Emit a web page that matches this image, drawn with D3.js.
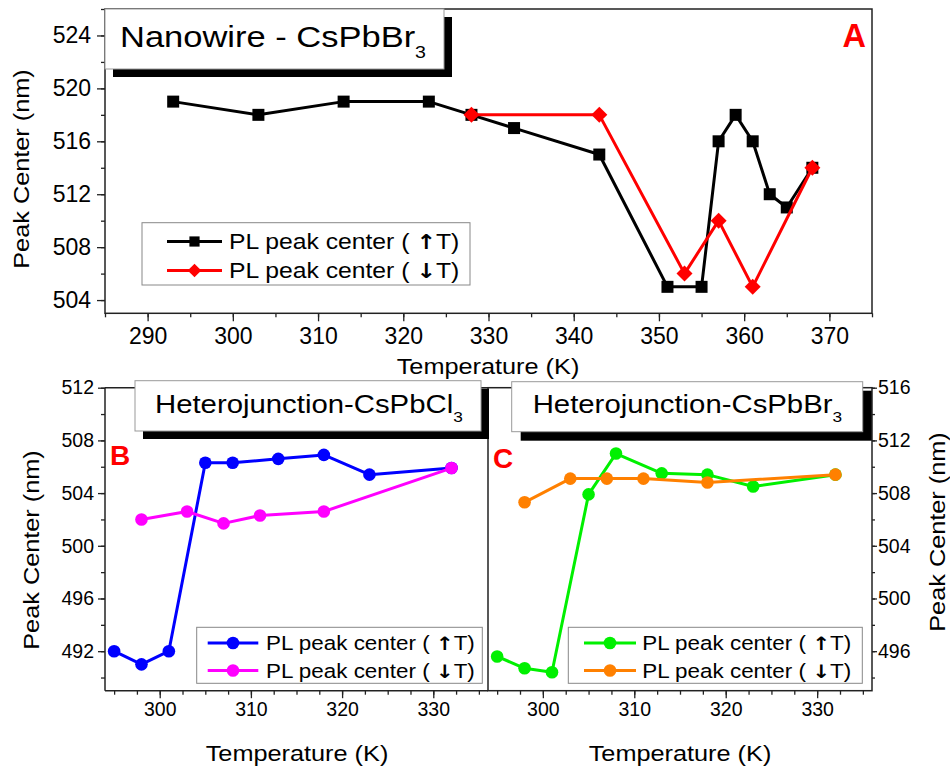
<!DOCTYPE html>
<html lang="en">
<head>
<meta charset="UTF-8">
<title>Peak Center vs Temperature</title>
<style>
  body { margin: 0; background: #fff; }
  svg { font-family: "Liberation Sans", Arial, sans-serif; }
</style>
</head>
<body>
<svg id="chart" width="950" height="770"></svg>
<script src="https://d3js.org/d3.v7.min.js"></script>
<script>
// Panel A : nanowire CsPbBr3
var tempUpA   = [293, 303, 313, 323, 328, 333, 343, 351, 355, 357, 359, 361, 363, 365, 368];
var peakUpA   = [519, 518, 519, 519, 518, 517, 515, 505, 505, 516, 518, 516, 512, 511, 514];
var tempDownA = [328, 343, 353, 357, 361, 368];
var peakDownA = [518, 518, 506, 510, 505, 514];

// Panel B : heterojunction CsPbCl3
var tempUpB   = [295, 298, 301, 305, 308, 313, 318, 323, 332];
var peakUpB   = [492, 491, 492, 506.3, 506.3, 506.6, 506.9, 505.4, 505.9];
var tempDownB = [298, 303, 307, 311, 318, 332];
var peakDownB = [502, 502.6, 501.7, 502.3, 502.6, 505.9];

// Panel C : heterojunction CsPbBr3
var tempUpC   = [295, 298, 301, 305, 308, 313, 318, 323, 332];
var peakUpC   = [495.6, 494.7, 494.4, 507.9, 511, 509.5, 509.4, 508.5, 509.4];
var tempDownC = [298, 303, 307, 311, 318, 332];
var peakDownC = [507.3, 509.1, 509.1, 509.1, 508.8, 509.4];

// tick labels
var xTicksA = [290, 300, 310, 320, 330, 340, 350, 360, 370];
var yTicksA = [504, 508, 512, 516, 520, 524];
var xTicksBC = [300, 310, 320, 330];
var yTicksB = [492, 496, 500, 504, 508, 512];
var yTicksC = [496, 500, 504, 508, 512, 516];

var svg = d3.select("#chart");
var AX = "#222";
var SX = 1.15; // the original lettering is a bit wider than Arial

function zip(xs, ys) { return xs.map(function (d, i) { return [d, ys[i]]; }); }

// draws an axis (major + minor ticks), no domain line
function axis(gen, scale, major, minor, bigTick, smallTick, pad, fs, transform) {
  var g1 = svg.append("g").attr("transform", transform)
    .call(gen(scale).tickValues(minor).tickSize(smallTick).tickFormat(""));
  var g2 = svg.append("g").attr("transform", transform)
    .call(gen(scale).tickValues(major).tickSize(bigTick).tickPadding(pad).tickFormat(d3.format("d")));
  [g1, g2].forEach(function (g) {
    g.select(".domain").remove();
    g.selectAll("line").attr("stroke", AX).attr("stroke-width", 1.3);
    g.attr("font-family", null).attr("font-size", fs);
    g.selectAll("text").attr("fill", "#000");
  });
}

function line(x1, y1, x2, y2) {
  svg.append("line").attr("x1", x1).attr("y1", y1).attr("x2", x2).attr("y2", y2)
    .attr("stroke", AX).attr("stroke-width", 1.5);
}

// stretched text
function stext(x, y, fs, anchor, rot) {
  return svg.append("text")
    .attr("transform", "translate(" + x + "," + y + ")" + (rot ? " rotate(-90)" : "") + " scale(" + SX + ",1)")
    .attr("text-anchor", anchor).attr("font-size", fs);
}

function series(x, y, data, color, shape) {
  svg.append("path").datum(data)
    .attr("fill", "none").attr("stroke", color).attr("stroke-width", 3)
    .attr("stroke-linejoin", "round")
    .attr("d", d3.line().x(function (d) { return x(d[0]); }).y(function (d) { return y(d[1]); }));
  marker(svg.append("g"), data.map(function (d) { return [x(d[0]), y(d[1])]; }), color, shape, 1);
}

function marker(g, pts, color, shape, k) {
  pts.forEach(function (p) {
    if (shape === "circle") {
      g.append("circle").attr("cx", p[0]).attr("cy", p[1]).attr("r", 6.3 * k).attr("fill", color);
    } else if (shape === "square") {
      g.append("path").attr("d", d3.symbol(d3.symbolSquare, 144 * k * k)())
        .attr("transform", "translate(" + p[0] + "," + p[1] + ")").attr("fill", color);
    } else {
      g.append("path").attr("d", d3.symbol(d3.symbolSquare, 128 * k * k)())
        .attr("transform", "translate(" + p[0] + "," + p[1] + ") rotate(45)").attr("fill", color);
    }
  });
}

function legend(bx, by, bw, bh, lx0, lx1, tx, rows, fs, items) {
  svg.append("rect").attr("x", bx).attr("y", by).attr("width", bw).attr("height", bh)
    .attr("fill", "#fff").attr("stroke", "#888").attr("stroke-width", 1);
  items.forEach(function (it, i) {
    var yy = rows[i];
    svg.append("line").attr("x1", lx0).attr("x2", lx1).attr("y1", yy).attr("y2", yy)
      .attr("stroke", it.color).attr("stroke-width", 3);
    marker(svg.append("g"), [[(lx0 + lx1) / 2, yy]], it.color, it.shape, it.k);
    var t = stext(tx, yy + fs * 0.36, fs, "start", false);
    t.append("tspan").text("PL peak center ( ");
    t.append("tspan").attr("font-family", "'DejaVu Sans'").attr("font-weight", "bold")
      .attr("font-size", fs * 0.95).text(it.arrow);
    t.append("tspan").text("T)");
  });
}

function titleBox(x, y, w, h, off, tx, ty, fs, main, sub, subFs, subDy) {
  svg.append("rect").attr("x", x + off).attr("y", y + off).attr("width", w).attr("height", h).attr("fill", "#000");
  svg.append("rect").attr("x", x).attr("y", y).attr("width", w).attr("height", h)
    .attr("fill", "#fff").attr("stroke", "#999").attr("stroke-width", 1);
  var t = stext(tx, ty, fs, "start", false).text(main);
  t.append("tspan").attr("font-size", subFs).attr("dy", subDy).text(sub);
}

function yLabel(x, y, txt) {
  stext(x, y, 22, "middle", true).attr("dy", "0.35em").text(txt);
}

function xLabel(x, y, txt) {
  stext(x, y, 22, "middle", false).text(txt);
}

// ---------- Panel A ----------
var xA = d3.scaleLinear().domain([285, 375]).range([105, 872]);
var yA = d3.scaleLinear().domain([503, 526]).range([313.3, 9]);

svg.append("rect").attr("x", 105).attr("y", 9).attr("width", 767).attr("height", 304.3)
  .attr("fill", "none").attr("stroke", AX).attr("stroke-width", 1.5);
axis(d3.axisBottom, xA, xTicksA, d3.range(285, 376, 5), 8, 4, 6, 23, "translate(0,313.3)");
axis(d3.axisLeft, yA, yTicksA, d3.range(504, 527, 2), 8, 4, 6, 23, "translate(105,0)");

series(xA, yA, zip(tempUpA, peakUpA), "#000", "square");
series(xA, yA, zip(tempDownA, peakDownA), "#ff0000", "diamond");

titleBox(105, 9, 339, 60, 8, 120, 46.7, 30, "Nanowire - CsPbBr", "3", 17, 11);
svg.append("text").attr("x", 866).attr("y", 46.7).attr("text-anchor", "end")
  .attr("font-size", 32.5).attr("font-weight", "bold").attr("fill", "#ff0000").text("A");

legend(142, 222.7, 328, 62.3, 167, 222, 229, [241.5, 270.5], 21.5, [
  { arrow: "\u2191", color: "#000", shape: "square", k: 0.85 },
  { arrow: "\u2193", color: "#ff0000", shape: "diamond", k: 0.85 }
]);

yLabel(21.5, 169, "Peak Center  (nm)");
xLabel(488, 373.5, "Temperature (K)");

// ---------- Panel B ----------
var xB = d3.scaleLinear().domain([294, 336]).range([105, 488]);
var yB = d3.scaleLinear().domain([489, 512]).range([690.7, 387.7]);

line(105, 387.7, 488, 387.7);
line(105, 387.7, 105, 690.7);
line(105, 690.7, 488, 690.7);
axis(d3.axisBottom, xB, xTicksBC, d3.range(295, 336, 2.5), 7.5, 4, 4, 19.5, "translate(0,690.7)");
axis(d3.axisLeft, yB, yTicksB, d3.range(490, 513, 2), 7, 4, 4, 19.5, "translate(105,0)");

series(xB, yB, zip(tempUpB, peakUpB), "#0000ff", "circle");
series(xB, yB, zip(tempDownB, peakDownB), "#ff00ff", "circle");

svg.append("text").attr("x", 110).attr("y", 465).attr("font-size", 28)
  .attr("font-weight", "bold").attr("fill", "#ff0000").text("B");

legend(196.7, 627.3, 285.6, 56, 207.7, 258.3, 266, [643, 670.5], 19.5, [
  { arrow: "\u2191", color: "#0000ff", shape: "circle", k: 1 },
  { arrow: "\u2193", color: "#ff00ff", shape: "circle", k: 1 }
]);

yLabel(31.5, 550, "Peak Center (nm)");
xLabel(297, 761, "Temperature (K)");

// ---------- Panel C ----------
var xC = d3.scaleLinear().domain([294, 336]).range([488, 872]);
var yC = d3.scaleLinear().domain([493, 516]).range([690.7, 387.7]);

svg.append("rect").attr("x", 488).attr("y", 387.7).attr("width", 384).attr("height", 303)
  .attr("fill", "none").attr("stroke", AX).attr("stroke-width", 1.5);
axis(d3.axisBottom, xC, xTicksBC, d3.range(295, 336, 2.5), 7.5, 4, 4, 19.5, "translate(0,690.7)");
axis(d3.axisRight, yC, yTicksC, d3.range(494, 517, 2), 5, 3, 1, 19.5, "translate(872,0)");

series(xC, yC, zip(tempUpC, peakUpC), "#00f000", "circle");
series(xC, yC, zip(tempDownC, peakDownC), "#ff8000", "circle");

svg.append("text").attr("x", 493).attr("y", 468).attr("font-size", 28)
  .attr("font-weight", "bold").attr("fill", "#ff0000").text("C");

legend(568.3, 627.3, 294, 56, 584, 636, 642.3, [643, 670.5], 19.5, [
  { arrow: "\u2191", color: "#00f000", shape: "circle", k: 1 },
  { arrow: "\u2193", color: "#ff8000", shape: "circle", k: 1 }
]);

yLabel(937, 532, "Peak Center (nm)");
xLabel(680, 761, "Temperature (K)");

// title boxes sit above the panel frames
titleBox(135, 380.7, 346, 50.3, 8, 155, 412.7, 25.5, "Heterojunction-CsPbCl", "3", 15, 9);
titleBox(511.7, 381.7, 351, 50, 9, 532.7, 412.7, 25.5, "Heterojunction-CsPbBr", "3", 15, 9);
</script>
</body>
</html>
